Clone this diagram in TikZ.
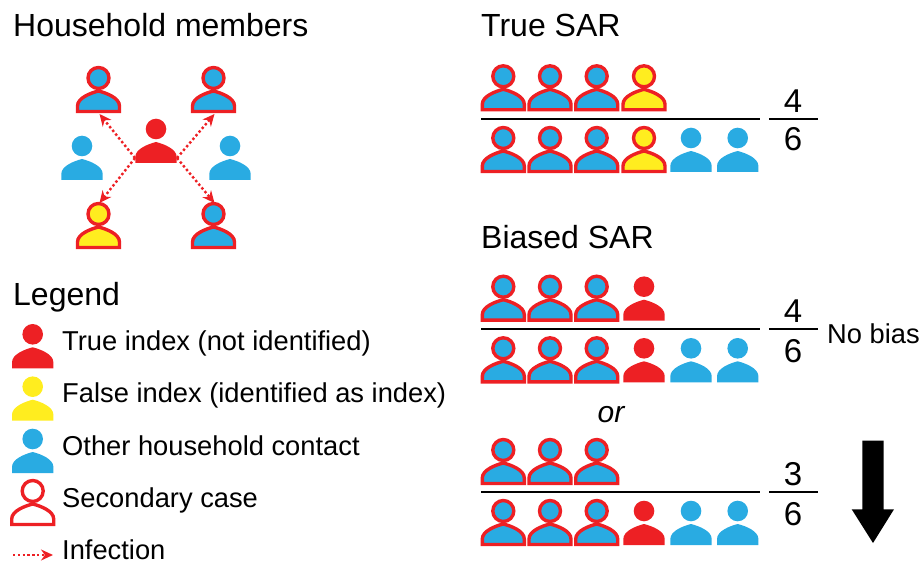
\documentclass[tikz,border=0pt]{standalone}
\usepackage{fontspec}
\setmainfont{Liberation Sans}
\usetikzlibrary{arrows.meta}
\definecolor{sarred}{RGB}{237,32,36}
\definecolor{sarblue}{RGB}{41,171,226}
\definecolor{saryellow}{RGB}{255,237,31}
\tikzstyle{bigtext} = [anchor=base west, inner sep=0pt, font=\fontsize{32}{32}\selectfont]
\tikzstyle{legendtext} = [anchor=base west, inner sep=0pt, font=\fontsize{27.3}{27.3}\selectfont]
\tikzstyle{fractext} = [anchor=base, inner sep=0pt, font=\fontsize{33}{33}\selectfont]
\tikzstyle{fracline} = [line width=2.2pt, color=black]
\tikzstyle{infection} = [line width=2.4pt, color=sarred, dash pattern=on 2.4pt off 2.4pt, -{Stealth[length=12pt,width=11pt]}]
\tikzset{
  plainperson/.pic={
    \fill[#1] (0,0) circle (10.3);
    \fill[#1] (-20.7,34) -- (-20.7,28) .. controls (-20.7,20) and (-8,15) .. (0,13) .. controls (8,15) and (20.7,20) .. (20.7,28) -- (20.7,34) -- cycle;
    \coordinate (-w) at (-21,29);
    \coordinate (-e) at (21,29);
  },
  caseperson/.pic={
    \draw[line width=3.4pt, color=sarred, fill=#1] (0,0) circle (10.5);
    \draw[line width=3.4pt, color=sarred, fill=#1] (-21,33.5) -- (-21,28) .. controls (-21,20) and (-8,15) .. (0,13) .. controls (8,15) and (21,20) .. (21,28) -- (21,33.5) -- cycle;
    \coordinate (-n) at (1,-11);
    \coordinate (-s) at (1,36);
  }
}
\begin{document}
\begin{tikzpicture}[x=1pt, y=-1pt]
\useasboundingbox (0,0) rectangle (921,561);
% Household members
\node (hh_title) [bigtext] at (13,37) {Household members};
\pic (hh_tl) at (98.5,78) {caseperson=sarblue};
\pic (hh_tr) at (213.5,78) {caseperson=sarblue};
\pic (hh_left) at (82,146) {plainperson=sarblue};
\pic (hh_index) at (156,129) {plainperson=sarred};
\pic (hh_right) at (230,146) {plainperson=sarblue};
\pic (hh_bl) at (98.5,214) {caseperson=saryellow};
\pic (hh_br) at (213.5,214) {caseperson=sarblue};
\draw[infection] (hh_index-w) -- (hh_tl-s);
\draw[infection] (hh_index-e) -- (hh_tr-s);
\draw[infection] (hh_index-w) -- (hh_bl-n);
\draw[infection] (hh_index-e) -- (hh_br-n);

% Legend
\node (lg_title) [bigtext] at (13,306) {Legend};
\pic (lg_true) at (32.7,334.3) {plainperson=sarred};
\node (lg_true_text) [legendtext] at (62,350) {True index (not identified)};
\pic (lg_false) at (32.7,386.7) {plainperson=saryellow};
\node (lg_false_text) [legendtext] at (62,402) {False index (identified as index)};
\pic (lg_other) at (32.7,439) {plainperson=sarblue};
\node (lg_other_text) [legendtext] at (62,455) {Other household contact};
\pic (lg_case) at (32.7,491) {caseperson=white};
\node (lg_case_text) [legendtext] at (62,507) {Secondary case};
\coordinate (lg_arrow_a) at (13,555);
\coordinate (lg_arrow_b) at (53,555);
\draw[infection] (lg_arrow_a) -- (lg_arrow_b);
\node (lg_arrow_text) [legendtext] at (62,559) {Infection};

% True SAR
\node (true_title) [bigtext] at (481,37) {True SAR};
\pic (t_n1) at (503.3,76.3) {caseperson=sarblue};
\pic (t_n2) at (550,76.3) {caseperson=sarblue};
\pic (t_n3) at (596.7,76.3) {caseperson=sarblue};
\pic (t_n4) at (644,76.3) {caseperson=saryellow};
\coordinate (t_la) at (481,119);
\coordinate (t_lb) at (760,119);
\draw[fracline] (t_la) -- (t_lb);
\pic (t_d1) at (503.3,138) {caseperson=sarblue};
\pic (t_d2) at (550,138) {caseperson=sarblue};
\pic (t_d3) at (596.7,138) {caseperson=sarblue};
\pic (t_d4) at (644,138) {caseperson=saryellow};
\pic (t_d5) at (691,138) {plainperson=sarblue};
\pic (t_d6) at (737.7,138) {plainperson=sarblue};
\coordinate (t_fa) at (769,119);
\coordinate (t_fb) at (818,119);
\draw[fracline] (t_fa) -- (t_fb);
\node (t_num) [fractext] at (793,113) {4};
\node (t_den) [fractext] at (793,151) {6};

% Biased SAR
\node (bias_title) [bigtext] at (481,249) {Biased SAR};
\pic (a_n1) at (503.3,286.7) {caseperson=sarblue};
\pic (a_n2) at (550,286.7) {caseperson=sarblue};
\pic (a_n3) at (596.7,286.7) {caseperson=sarblue};
\pic (a_n4) at (644,286.7) {plainperson=sarred};
\coordinate (a_la) at (481,329);
\coordinate (a_lb) at (760,329);
\draw[fracline] (a_la) -- (a_lb);
\pic (a_d1) at (503.3,348.3) {caseperson=sarblue};
\pic (a_d2) at (550,348.3) {caseperson=sarblue};
\pic (a_d3) at (596.7,348.3) {caseperson=sarblue};
\pic (a_d4) at (644,348.3) {plainperson=sarred};
\pic (a_d5) at (691,348.3) {plainperson=sarblue};
\pic (a_d6) at (737.7,348.3) {plainperson=sarblue};
\coordinate (a_fa) at (769,329);
\coordinate (a_fb) at (818,329);
\draw[fracline] (a_fa) -- (a_fb);
\node (a_num) [fractext] at (793,323) {4};
\node (a_den) [fractext] at (793,362) {6};
\node (a_note) [legendtext] at (827,344) {No bias};

\node (or_text) [legendtext, anchor=base, font=\fontsize{30}{30}\selectfont\itshape] at (611,422) {or};

\pic (b_n1) at (503.3,450) {caseperson=sarblue};
\pic (b_n2) at (550,450) {caseperson=sarblue};
\pic (b_n3) at (596.7,450) {caseperson=sarblue};
\coordinate (b_la) at (481,492);
\coordinate (b_lb) at (760,492);
\draw[fracline] (b_la) -- (b_lb);
\pic (b_d1) at (503.3,511) {caseperson=sarblue};
\pic (b_d2) at (550,511) {caseperson=sarblue};
\pic (b_d3) at (596.7,511) {caseperson=sarblue};
\pic (b_d4) at (644,511) {plainperson=sarred};
\pic (b_d5) at (691,511) {plainperson=sarblue};
\pic (b_d6) at (737.7,511) {plainperson=sarblue};
\coordinate (b_fa) at (769,492);
\coordinate (b_fb) at (818,492);
\draw[fracline] (b_fa) -- (b_fb);
\node (b_num) [fractext] at (793,485) {3};
\node (b_den) [fractext] at (793,525) {6};

% Big arrow
\fill[black] (862.3,440.7) -- (883.7,440.7) -- (883.7,509.3) -- (894,509.3) -- (873,543) -- (851.7,509.3) -- (862.3,509.3) -- cycle;
\end{tikzpicture}
\end{document}
